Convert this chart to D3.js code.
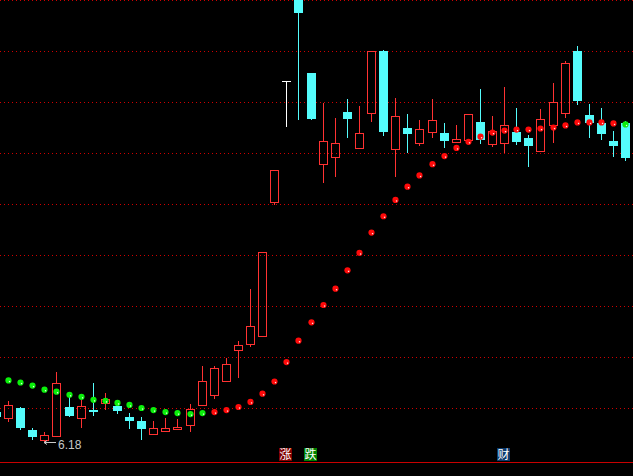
<!DOCTYPE html>
<html><head><meta charset="utf-8">
<script src="https://cdn.jsdelivr.net/npm/d3@7/dist/d3.min.js"></script>
<style>html,body{margin:0;padding:0;background:#000;overflow:hidden}svg{display:block}</style>
</head><body><svg id="chart" width="633" height="476"></svg>
<script>
// ---- data (price values, one entry per trading day) ----
const opens  = [6.46,6.40,6.50,6.28,6.19,6.23,6.51,6.40,6.48,6.55,6.52,6.41,6.37,6.25,6.27,6.29,6.33,6.53,6.63,6.76,7.07,7.13,7.21,8.52,9.71,10.68,9.78,8.89,8.96,9.40,9.05,9.39,10.00,9.04,9.25,9.10,9.21,9.20,9.11,9.13,9.30,9.09,9.10,9.21,9.15,9.02,9.27,9.39,10.00,9.37,9.29,9.12,9.29];
const highs  = [6.48,6.57,6.51,6.30,6.26,6.85,6.63,6.58,6.75,6.65,6.55,6.45,6.41,6.37,6.40,6.39,6.54,6.91,6.91,6.99,7.16,7.67,8.03,8.83,9.71,10.68,9.78,9.49,9.34,9.53,9.46,10.00,10.01,9.54,9.38,9.32,9.53,9.29,9.27,9.38,9.63,9.36,9.65,9.44,9.18,9.43,9.69,9.90,10.05,9.48,9.44,9.22,9.31];
const lows   = [6.39,6.37,6.29,6.20,6.18,6.23,6.42,6.31,6.43,6.49,6.45,6.30,6.20,6.25,6.27,6.29,6.27,6.53,6.60,6.76,6.80,7.11,7.21,8.50,9.26,9.33,9.33,8.72,8.77,9.16,9.05,9.31,9.18,8.77,9.01,9.08,9.16,9.06,9.11,9.13,9.10,9.07,9.01,9.09,8.87,9.02,9.11,9.35,9.48,9.16,9.14,8.97,8.93];
const closes = [6.41,6.53,6.30,6.22,6.24,6.75,6.42,6.52,6.46,6.59,6.47,6.37,6.29,6.30,6.30,6.31,6.49,6.76,6.89,6.93,7.12,7.30,8.03,8.83,9.71,10.37,9.33,9.12,9.10,9.33,9.20,10.00,9.21,9.36,9.19,9.24,9.32,9.12,9.14,9.38,9.13,9.22,9.27,9.11,9.07,9.33,9.50,9.88,9.51,9.29,9.19,9.07,8.95];
// indicator dots (null = not shown) and their trend state (1 = up/red, -1 = down/green)
const dotValues = [null,6.77,6.75,6.72,6.68,6.66,6.63,6.61,6.58,6.57,6.55,6.53,6.50,6.48,6.46,6.45,6.44,6.45,6.46,6.48,6.51,6.56,6.64,6.76,6.95,7.16,7.34,7.51,7.67,7.85,8.02,8.22,8.38,8.54,8.67,8.78,8.89,8.97,9.05,9.11,9.16,9.20,9.22,9.23,9.23,9.24,9.25,9.27,9.30,9.30,9.30,9.29,9.28];
const dotTrend  = [0,-1,-1,-1,-1,-1,-1,-1,-1,-1,-1,-1,-1,-1,-1,-1,-1,-1,1,1,1,1,1,1,1,1,1,1,1,1,1,1,1,1,1,1,1,1,1,1,1,1,1,1,1,1,1,1,1,1,1,1,-1];
const gridLevels = [6.5,7.0,7.5,8.0,8.5,9.0,9.5,10.0,10.5];
const markerIndex = [24,26,42];
const markerText  = ["涨","跌","财"];
const markerType  = ["up","down","fin"];

// ---- styles ----
const RED = "#ff3232", CYAN = "#54fcfc", WHITE = "#ffffff";
const markerBg = {up:"#800000", down:"#008000", fin:"#0c3a6c"};

const W = 633, H = 476;
const svg = d3.select("#chart");
svg.append("rect").attr("width", W).attr("height", H).attr("fill", "#000");

const n = opens.length;
const x = d3.scaleBand().domain(d3.range(n)).range([-10.15, 631.15]).padding(0);
const y = d3.scaleLinear().domain([6.5, 10.5]).range([408, 0]);
const cx = i => Math.round(x(i) + x.bandwidth() / 2);
const py = v => Math.round(y(v));

// grid lines
svg.append("g").selectAll("line").data(gridLevels).join("line")
  .attr("x1", 0).attr("x2", W)
  .attr("y1", d => py(d) + 0.5).attr("y2", d => py(d) + 0.5)
  .attr("stroke", "#d00000").attr("stroke-width", 1)
  .attr("stroke-dasharray", "1,3").attr("shape-rendering", "crispEdges");

// bottom axis line
svg.append("line").attr("x1", 0).attr("x2", W).attr("y1", 462.5).attr("y2", 462.5)
  .attr("stroke", "#c80000").attr("stroke-width", 1).attr("shape-rendering", "crispEdges");

// candles
const idx = d3.range(n);
const gC = svg.append("g").attr("shape-rendering", "crispEdges");
idx.forEach(i => {
  const o = opens[i], c = closes[i], h = highs[i], l = lows[i];
  const X = cx(i);
  const g = gC.append("g");
  if (c > o) {
    const top = py(c), bot = py(o);
    g.append("rect").attr("x", X - 4 + 0.5).attr("y", top + 0.5)
      .attr("width", 8).attr("height", Math.max(1, bot - top))
      .attr("fill", "none").attr("stroke", RED);
    if (py(h) < top) g.append("line").attr("x1", X + 0.5).attr("x2", X + 0.5)
      .attr("y1", py(h)).attr("y2", top).attr("stroke", RED);
    if (py(l) > bot) g.append("line").attr("x1", X + 0.5).attr("x2", X + 0.5)
      .attr("y1", bot + 1).attr("y2", py(l) + 1).attr("stroke", RED);
  } else if (c < o) {
    const top = py(o), bot = py(c);
    g.append("line").attr("x1", X + 0.5).attr("x2", X + 0.5)
      .attr("y1", py(h)).attr("y2", py(l) + 1).attr("stroke", CYAN);
    g.append("rect").attr("x", X - 4).attr("y", top)
      .attr("width", 9).attr("height", Math.max(1, bot - top)).attr("fill", CYAN);
  } else {
    g.append("line").attr("x1", X - 4).attr("x2", X + 5)
      .attr("y1", py(o) + 0.5).attr("y2", py(o) + 0.5).attr("stroke", WHITE);
    g.append("line").attr("x1", X + 0.5).attr("x2", X + 0.5)
      .attr("y1", py(h)).attr("y2", py(l) + 1).attr("stroke", WHITE);
  }
});

// indicator dots
const dots = idx.filter(i => dotValues[i] !== null);
const gD = svg.append("g");
dots.forEach(i => {
  const X = cx(i) + 0.5, Y = y(dotValues[i]);
  const up = dotTrend[i] > 0;
  gD.append("circle").attr("cx", X).attr("cy", Y).attr("r", 3.1)
    .attr("fill", up ? "#ff0a0a" : "#0af00a");
  gD.append("rect").attr("x", X + 0.4).attr("y", Y + 0.4).attr("width", 1.3).attr("height", 1.3)
    .attr("fill", up ? "#ffe0e0" : "#e0ffe0");
});

// lowest-price annotation
const minLow = d3.min(lows);
const minI = lows.indexOf(minLow);
const ax = cx(minI), ay = py(minLow) + 1.5;
const gA = svg.append("g").attr("stroke", "#c8c8c8").attr("stroke-width", 1);
gA.append("line").attr("x1", ax).attr("x2", ax + 12).attr("y1", ay).attr("y2", ay);
gA.append("line").attr("x1", ax).attr("x2", ax + 3).attr("y1", ay).attr("y2", ay - 2);
gA.append("line").attr("x1", ax).attr("x2", ax + 3).attr("y1", ay).attr("y2", ay + 2);
svg.append("text").attr("x", ax + 14).attr("y", ay + 6)
  .attr("fill", "#c8c8c8").attr("font-family", "Liberation Sans, Arial, sans-serif")
  .attr("font-size", 12).text(d3.format(".2f")(minLow));

// event markers
const gM = svg.append("g");
markerIndex.forEach((mi, k) => {
  const X = cx(mi);
  gM.append("rect").attr("x", X - 7).attr("y", 448).attr("width", 13).attr("height", 13)
    .attr("fill", markerBg[markerType[k]]);
  gM.append("text").attr("x", X - 0.5).attr("y", 459).attr("text-anchor", "middle")
    .attr("fill", "#ffffff").attr("font-family", "Noto Sans CJK SC, sans-serif")
    .attr("font-size", 12).text(markerText[k]);
});
</script>
</body></html>
